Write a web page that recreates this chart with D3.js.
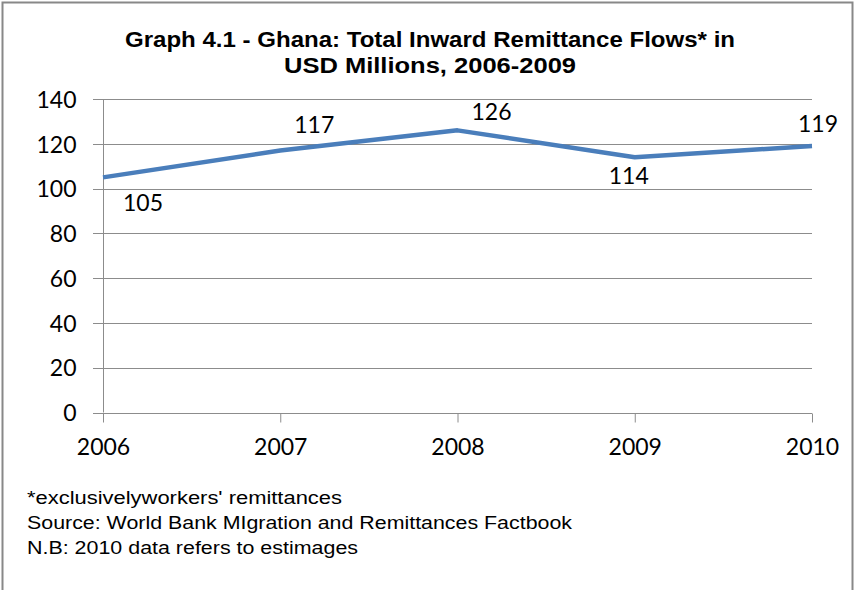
<!DOCTYPE html>
<html><head><meta charset="utf-8">
<script src="https://cdn.jsdelivr.net/npm/d3@7"></script>
<style>body{margin:0;background:#fff}svg{display:block}</style>
</head><body>
<svg id="c" width="855" height="590"></svg>
<script>
const years = ["2006","2007","2008","2009","2010"];
const values = [105,117,126,114,119];
const yTicks = [0,20,40,60,80,100,120,140];
const titleLines = ["Graph 4.1 - Ghana: Total Inward Remittance Flows* in","USD Millions, 2006-2009"];
const notes = ["*exclusivelyworkers' remittances","Source: World Bank MIgration and Remittances Factbook","N.B: 2010 data refers to estimages"];
// label offsets (dx, dy) relative to point
const labelOffsets = [[40,25],[34,-26],[34,-19],[-6,18],[6,-22]];

const svg = d3.select("#c");
svg.append("rect").attr("x",2.5).attr("y",2.5).attr("width",850).attr("height",600)
  .attr("fill","#fff").attr("stroke","#888").attr("stroke-width",2);

const x = d3.scalePoint().domain(years).range([103,812]);
const y = d3.scaleLinear().domain([0,140]).range([412.5,99]);

const tf = "'Liberation Sans Narrow','Arial Narrow','Liberation Sans',sans-serif";
const lf = "Lato,Carlito,Calibri,'Open Sans',sans-serif";

svg.append("g").selectAll("text").data(titleLines).join("text")
  .attr("x",(d,i)=>[125,284][i]).attr("y",(d,i)=>47+i*26)
  .attr("textLength",(d,i)=>[610,292][i]).attr("lengthAdjust","spacingAndGlyphs")
  .attr("font-family",tf).attr("font-weight","bold").attr("font-size",22.5).attr("fill","#000").text(d=>d);

// gridlines
svg.append("g").selectAll("line").data(yTicks).join("line")
  .attr("x1",93).attr("x2",812).attr("y1",d=>Math.round(y(d))+0.5).attr("y2",d=>Math.round(y(d))+0.5)
  .attr("stroke","#8c8c8c").attr("stroke-width",1);

// y axis
const yAxis = svg.append("g").attr("transform","translate(103.5,0)")
  .call(d3.axisLeft(y).tickValues(yTicks).tickSize(0).tickPadding(27));
yAxis.select(".domain").attr("stroke","#8c8c8c").attr("d","M0,"+y(140)+"V"+y(0));
yAxis.selectAll("text").attr("font-family",lf).attr("font-size",23).attr("fill","#000").attr("dy","0.36em");

// x axis
const xAxis = svg.append("g").attr("transform","translate(0,"+(Math.round(y(0))+0.5)+")")
  .call(d3.axisBottom(x).tickSize(9).tickPadding(16));
xAxis.select(".domain").remove();
xAxis.selectAll("line").attr("stroke","#8c8c8c");
xAxis.selectAll("text").attr("font-family",lf).attr("font-size",23).attr("fill","#000");

// line
svg.append("path").datum(values)
  .attr("d",d3.line().x((d,i)=>x(years[i])).y(d=>y(d)))
  .attr("fill","none").attr("stroke","#4a7ebb").attr("stroke-width",4.5).attr("stroke-linejoin","round");

// labels
svg.append("g").selectAll("text").data(values).join("text")
  .attr("x",(d,i)=>x(years[i])+labelOffsets[i][0])
  .attr("y",(d,i)=>y(d)+labelOffsets[i][1])
  .attr("dy","0.36em").attr("text-anchor","middle")
  .attr("font-family",lf).attr("font-size",23).attr("fill","#000").text(d=>d);

svg.append("g").selectAll("text").data(notes).join("text")
  .attr("x",27).attr("y",(d,i)=>504+i*25)
  .attr("font-family","'Liberation Sans','Arial',sans-serif").attr("font-size",17.5)
  .attr("textLength",(d,i)=>[315,545,331][i]).attr("lengthAdjust","spacingAndGlyphs")
  .attr("fill","#000").text(d=>d);
</script>
</body></html>
